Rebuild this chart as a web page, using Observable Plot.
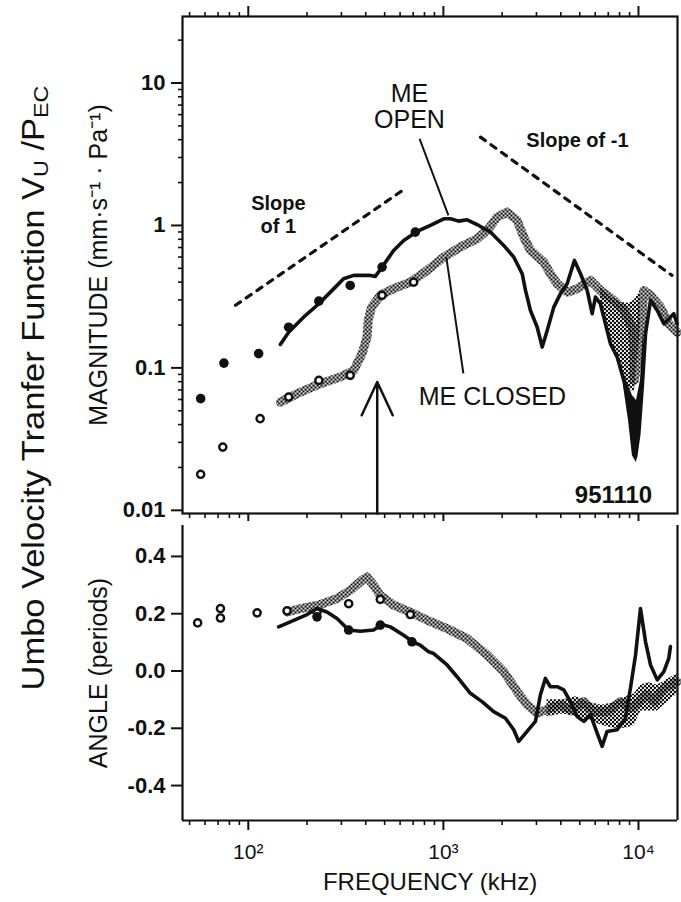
<!DOCTYPE html>
<html>
<head>
<meta charset="utf-8">
<script src="https://cdn.jsdelivr.net/npm/d3@7"></script>
<script src="https://cdn.jsdelivr.net/npm/@observablehq/plot@0.6"></script>
<style>
  html, body { margin: 0; padding: 0; background: #fff; overflow: hidden; }
  #fig { position: relative; width: 681px; height: 902px; font-family: "Liberation Sans", Arial, Helvetica, sans-serif; color: #111; }
  #fig > svg, #fig > div { position: absolute; left: 0; }
</style>
</head>
<body>
<!-- halftone fill used for the "ME closed" band -->
<svg width="0" height="0" style="position:absolute">
  <defs>
    <pattern id="stipple" width="4" height="4" patternUnits="userSpaceOnUse">
      <circle cx="1" cy="1" r="1.3" fill="#111"/>
      <circle cx="3" cy="3" r="1.3" fill="#111"/>
    </pattern>
  </defs>
</svg>
<div id="fig">
  <svg width="70" height="902" style="top:0">
    <text transform="translate(33,388) rotate(-90)" text-anchor="middle" dominant-baseline="central"
          font-size="31" textLength="605" lengthAdjust="spacingAndGlyphs" fill="#111">Umbo Velocity Tranfer Function V<tspan font-size="21" dy="7">U</tspan><tspan dy="-7"> /P</tspan><tspan font-size="21" dy="7">EC</tspan></text>
  </svg>
</div>
<script>
// ---- axes ----
const freqMajor = [100, 1000, 10000];
const freqMinor = [50, 60, 70, 80, 90, 200, 300, 400, 500, 600, 700, 800, 900,
                   2000, 3000, 4000, 5000, 6000, 7000, 8000, 9000];
const magMajor = [0.01, 0.1, 1, 10];
const magMinor = [0.02, 0.03, 0.04, 0.05, 0.06, 0.07, 0.08, 0.09,
                  0.2, 0.3, 0.4, 0.5, 0.6, 0.7, 0.8, 0.9,
                  2, 3, 4, 5, 6, 7, 8, 9, 20];
const angleTicks = [-0.4, -0.2, 0, 0.2, 0.4];

// ---- magnitude, middle ear open (solid curve + filled points) ----
const openMagFreq = [146, 161, 192, 230, 269, 308, 347, 422, 448, 485, 556, 626, 733, 858, 1005, 1087, 1198, 1324,
  1517, 1742, 2038, 2294, 2535, 2636, 2795, 3026, 3210, 3404, 3681, 3983, 4310, 4697, 5043, 5460, 5790, 6017,
  6380, 6770, 7180, 7780, 8410, 8920, 9290, 9660, 10040, 10450, 10870, 11530, 12480, 13490, 14300, 15170, 15780];
const openMagVal = [0.146, 0.178, 0.227, 0.282, 0.350, 0.423, 0.446, 0.446, 0.439, 0.510, 0.668, 0.785, 0.908, 1.0,
  1.114, 1.114, 1.072, 1.096, 1.0, 0.898, 0.724, 0.600, 0.458, 0.350, 0.253, 0.193, 0.140, 0.183, 0.267, 0.332,
  0.390, 0.568, 0.458, 0.350, 0.240, 0.314, 0.282, 0.204, 0.148, 0.119, 0.0817, 0.0591, 0.0345, 0.0237, 0.0345,
  0.0733, 0.174, 0.298, 0.253, 0.204, 0.221, 0.240, 0.204];
const openMagDotFreq = [57, 75, 113, 161, 230, 333, 485, 718];
const openMagDotVal = [0.0608, 0.108, 0.126, 0.193, 0.294, 0.379, 0.510, 0.898];
// heavy notch just below 10 kHz
const openNotchFreq = [8370, 8890, 9310, 9770, 10240, 10610];
const openNotchHigh = [0.093, 0.075, 0.064, 0.059, 0.082, 0.183];
const openNotchLow = [0.075, 0.0428, 0.0242, 0.0216, 0.0364, 0.113];

// ---- magnitude, middle ear closed (stippled band + open points) ----
const closedMagFreq = [146, 178, 234, 296, 347, 383, 406, 412, 428, 475, 556, 677, 825, 1005, 1222, 1489, 1708,
  1884, 2121, 2388, 2582, 2795, 3266, 3536, 3830, 4310, 4849, 5680, 6380, 7470, 8410, 9290, 9470, 9530, 10230,
  10640, 11530, 12970, 14300, 15780];
const closedMagVal = [0.0575, 0.0659, 0.0775, 0.0862, 0.096, 0.126, 0.164, 0.216, 0.266, 0.323, 0.360, 0.400,
  0.483, 0.600, 0.705, 0.807, 0.948, 1.143, 1.240, 1.084, 0.828, 0.668, 0.553, 0.458, 0.390, 0.340, 0.360, 0.411,
  0.350, 0.298, 0.253, 0.193, 0.133, 0.0817, 0.156, 0.350, 0.323, 0.267, 0.204, 0.178];
const closedMagDotFreq = [57, 74, 115, 161, 230, 333, 485, 704];
const closedMagDotVal = [0.0179, 0.0278, 0.044, 0.0624, 0.0817, 0.0886, 0.323, 0.400];
const closedSpreadFreq = [6380, 7180, 8090, 8890, 9530, 10230];
const closedSpreadHigh = [0.367, 0.318, 0.288, 0.284, 0.298, 0.350];
const closedSpreadLow = [0.298, 0.156, 0.096, 0.0718, 0.0673, 0.183];

// ---- angle, middle ear open ----
const openAngFreq = [143, 171, 200, 225, 253, 285, 327, 375, 439, 485, 535, 626, 704, 762, 841, 892, 1045, 1175,
  1375, 1578, 1810, 2080, 2294, 2433, 2686, 2964, 3143, 3332, 3536, 3830, 4140, 4478, 4849, 5248, 5680, 6017,
  6510, 6905, 7780, 8570, 9090, 9660, 10240, 10870, 11530, 12480, 13490, 14300, 14580];
const openAngVal = [0.154, 0.177, 0.197, 0.218, 0.206, 0.183, 0.143, 0.139, 0.143, 0.162, 0.154, 0.125, 0.100,
  0.090, 0.067, 0.061, 0.021, -0.020, -0.078, -0.107, -0.142, -0.165, -0.205, -0.246, -0.211, -0.176, -0.083,
  -0.026, -0.055, -0.055, -0.066, -0.107, -0.159, -0.176, -0.153, -0.200, -0.263, -0.211, -0.205, -0.165,
  -0.061, 0.056, 0.218, 0.102, 0.021, -0.031, -0.002, 0.044, 0.085];
const openAngDotFreq = [225, 327, 475, 690];
const openAngDotVal = [0.189, 0.143, 0.160, 0.102];

// ---- angle, middle ear closed ----
const closedAngFreq = [158, 185, 234, 285, 333, 383, 406, 439, 475, 556, 704, 830, 1045, 1324, 1675, 2038, 2388,
  2686, 3026, 3536, 3983, 4478, 5248, 5903, 6905, 8090, 9090, 11090, 12000, 13490, 15780];
const closedAngVal = [0.206, 0.218, 0.232, 0.253, 0.282, 0.317, 0.328, 0.299, 0.264, 0.230, 0.200, 0.177, 0.148,
  0.113, 0.056, -0.002, -0.072, -0.118, -0.147, -0.130, -0.118, -0.136, -0.107, -0.142, -0.142, -0.107, -0.130,
  -0.083, -0.107, -0.061, -0.037];
const closedAngDotFreq = [55, 72, 72, 111, 158, 225, 327, 475, 677];
const closedAngDotVal = [0.168, 0.185, 0.218, 0.203, 0.210, 0.205, 0.235, 0.250, 0.197];
const closedAngSpreadFreq = [3400, 4100, 4800, 5600, 6500, 7500, 8600, 9500, 10300, 11200, 12500, 14000, 15800];
const closedAngSpreadHigh = [-0.10, -0.10, -0.09, -0.11, -0.12, -0.11, -0.09, -0.08, -0.05, -0.04, -0.05, -0.03, -0.01];
const closedAngSpreadLow = [-0.16, -0.15, -0.16, -0.17, -0.19, -0.20, -0.20, -0.19, -0.14, -0.14, -0.14, -0.11, -0.08];

// ---- reference slopes, pointers and the marked frequency ----
const slopeUpFreq = [86, 617], slopeUpVal = [0.275, 1.76];
const slopeDownFreq = [1549, 14860], slopeDownVal = [4.17, 0.446];
const pointerFreq1 = [755, 1035], pointerVal1 = [4.06, 0.599];
const pointerFreq2 = [1061, 1266], pointerVal2 = [1.176, 0.0915];
const markFreq = 458, markFrom = 0.0095, markTo = 0.0795;

// label anchors (data units)
const openLabel = {text: "ME\nOPEN", f: 670, v: 6.84};
const closedLabel = {text: "ME CLOSED", f: 1783, v: 0.0621};
const slopeUpLabel = {text: "Slope\nof 1", f: 142.6, v: 1.195};
const slopeDownLabel = {text: "Slope of -1", f: 4864, v: 3.95};
const idLabel = {text: "951110", f: 7447, v: 0.0127};

const xDomain = [46, 15850];
const magDomain = [0.0095, 29.3];
const angleDomain = [-0.522, 0.508];
const ink = "#111";
const font = '"Liberation Sans", Arial, Helvetica, sans-serif';
const sup = {2: "²", 3: "³", 4: "⁴"};

const magnitude = Plot.plot({
  width: 681, height: 520,
  marginLeft: 182, marginRight: 4, marginTop: 16, marginBottom: 7,
  style: {background: "transparent", overflow: "visible", fontFamily: font, color: ink},
  x: {type: "log", domain: xDomain, label: null},
  y: {type: "log", domain: magDomain, label: null},
  marks: [
    Plot.axisY(magMajor, {tickSize: 11, tickPadding: 6, strokeWidth: 2, fontSize: 22, fontWeight: "bold",
      tickFormat: (d) => String(d), label: null}),
    Plot.axisY(magMinor, {tickSize: 4, strokeWidth: 1.6, fill: "none", label: null}),
    Plot.axisX(freqMajor, {anchor: "top", tickSize: 11, strokeWidth: 2, fill: "none", label: null}),
    Plot.axisX(freqMinor, {anchor: "top", tickSize: 5, strokeWidth: 1.6, fill: "none", label: null}),
    Plot.axisX(freqMajor, {anchor: "bottom", tickSize: 8, strokeWidth: 2, fill: "none", label: null}),
    Plot.axisX(freqMinor, {anchor: "bottom", tickSize: 5, strokeWidth: 1.6, fill: "none", label: null}),
    Plot.frame({stroke: ink, strokeWidth: 2.2}),

    // reference slopes
    Plot.line(slopeUpFreq, {x: slopeUpFreq, y: slopeUpVal, stroke: ink, strokeWidth: 3.2, strokeDasharray: "6,7"}),
    Plot.line(slopeDownFreq, {x: slopeDownFreq, y: slopeDownVal, stroke: ink, strokeWidth: 3.2, strokeDasharray: "6,7"}),

    // middle ear closed
    Plot.areaY(closedSpreadFreq, {x: closedSpreadFreq, y1: closedSpreadLow, y2: closedSpreadHigh, fill: "url(#stipple)", curve: "linear"}),
    Plot.line(closedMagFreq, {x: closedMagFreq, y: closedMagVal, stroke: "url(#stipple)", strokeWidth: 9,
      strokeLinejoin: "round", strokeLinecap: "round"}),
    Plot.dot(closedMagDotFreq, {x: closedMagDotFreq, y: closedMagDotVal, r: 3.6, fill: "#fff", stroke: ink, strokeWidth: 2.4}),

    // middle ear open
    Plot.areaY(openNotchFreq, {x: openNotchFreq, y1: openNotchLow, y2: openNotchHigh, fill: ink, curve: "linear"}),
    Plot.line(openMagFreq, {x: openMagFreq, y: openMagVal, stroke: ink, strokeWidth: 3.6, strokeLinejoin: "round"}),
    Plot.dot(openMagDotFreq, {x: openMagDotFreq, y: openMagDotVal, r: 4.8, fill: ink}),

    // annotations
    Plot.link(pointerFreq1, {x1: pointerFreq1, y1: pointerVal1, x2: pointerFreq2, y2: pointerVal2, stroke: ink, strokeWidth: 2}),
    Plot.arrow([markFreq], {x1: [markFreq], y1: [markFrom], x2: [markFreq], y2: [markTo],
      stroke: ink, strokeWidth: 2.5, headLength: 22, headAngle: 50}),
    Plot.text([openLabel.text], {x: [openLabel.f], y: [openLabel.v], text: (d) => d, fontSize: 25, lineHeight: 1.04, fill: ink}),
    Plot.text([closedLabel.text], {x: [closedLabel.f], y: [closedLabel.v], text: (d) => d, fontSize: 25, fill: ink}),
    Plot.text([slopeUpLabel.text], {x: [slopeUpLabel.f], y: [slopeUpLabel.v], text: (d) => d, fontSize: 20, fontWeight: "bold", lineHeight: 1.15, fill: ink}),
    Plot.text([slopeDownLabel.text], {x: [slopeDownLabel.f], y: [slopeDownLabel.v], text: (d) => d, fontSize: 20, fontWeight: "bold", fill: ink}),
    Plot.text([idLabel.text], {x: [idLabel.f], y: [idLabel.v], text: (d) => d, fontSize: 24, fontWeight: "bold", fill: ink}),

    // axis title
    Plot.text(["MAGNITUDE (mm·s⁻¹ · Pa⁻¹)"], {frameAnchor: "left", textAnchor: "middle", dx: -84, rotate: -90,
      text: (d) => d, fontSize: 25, fill: ink})
  ]
});
magnitude.style.top = "0px";

const angle = Plot.plot({
  width: 681, height: 389,
  marginLeft: 182, marginRight: 4, marginTop: 12, marginBottom: 82,
  style: {background: "transparent", overflow: "visible", fontFamily: font, color: ink},
  x: {type: "log", domain: xDomain, label: null},
  y: {domain: angleDomain, label: null},
  marks: [
    Plot.axisY(angleTicks, {tickSize: 11, tickPadding: 6, strokeWidth: 2, fontSize: 22, fontWeight: "bold",
      tickFormat: (d) => d.toFixed(1), label: null}),
    Plot.axisX(freqMajor, {anchor: "bottom", tickSize: 10, tickPadding: 14, strokeWidth: 2, fontSize: 21,
      tickFormat: (d) => "10" + sup[Math.round(Math.log10(d))], label: null}),
    Plot.axisX(freqMinor, {anchor: "bottom", tickSize: 5, strokeWidth: 1.6, fill: "none", label: null}),
    Plot.ruleX([xDomain[0], xDomain[1]], {stroke: ink, strokeWidth: 2.2}),
    Plot.ruleY([angleDomain[0]], {stroke: ink, strokeWidth: 2.2}),

    // middle ear closed
    Plot.areaY(closedAngSpreadFreq, {x: closedAngSpreadFreq, y1: closedAngSpreadLow, y2: closedAngSpreadHigh, fill: "url(#stipple)", curve: "linear"}),
    Plot.line(closedAngFreq, {x: closedAngFreq, y: closedAngVal, stroke: "url(#stipple)", strokeWidth: 9,
      strokeLinejoin: "round", strokeLinecap: "round"}),
    Plot.dot(closedAngDotFreq, {x: closedAngDotFreq, y: closedAngDotVal, r: 3.6, fill: "#fff", stroke: ink, strokeWidth: 2.4}),

    // middle ear open
    Plot.line(openAngFreq, {x: openAngFreq, y: openAngVal, stroke: ink, strokeWidth: 3.6, strokeLinejoin: "round"}),
    Plot.dot(openAngDotFreq, {x: openAngDotFreq, y: openAngDotVal, r: 4.8, fill: ink}),

    // axis titles
    Plot.text(["ANGLE (periods)"], {frameAnchor: "left", textAnchor: "middle", dx: -84, rotate: -90,
      text: (d) => d, fontSize: 25, fill: ink}),
    Plot.text(["FREQUENCY (kHz)"], {frameAnchor: "bottom", dy: 69, text: (d) => d, fontSize: 24, fill: ink})
  ]
});
angle.style.top = "513px";

const fig = document.getElementById("fig");
fig.append(magnitude, angle);
</script>
</body>
</html>
